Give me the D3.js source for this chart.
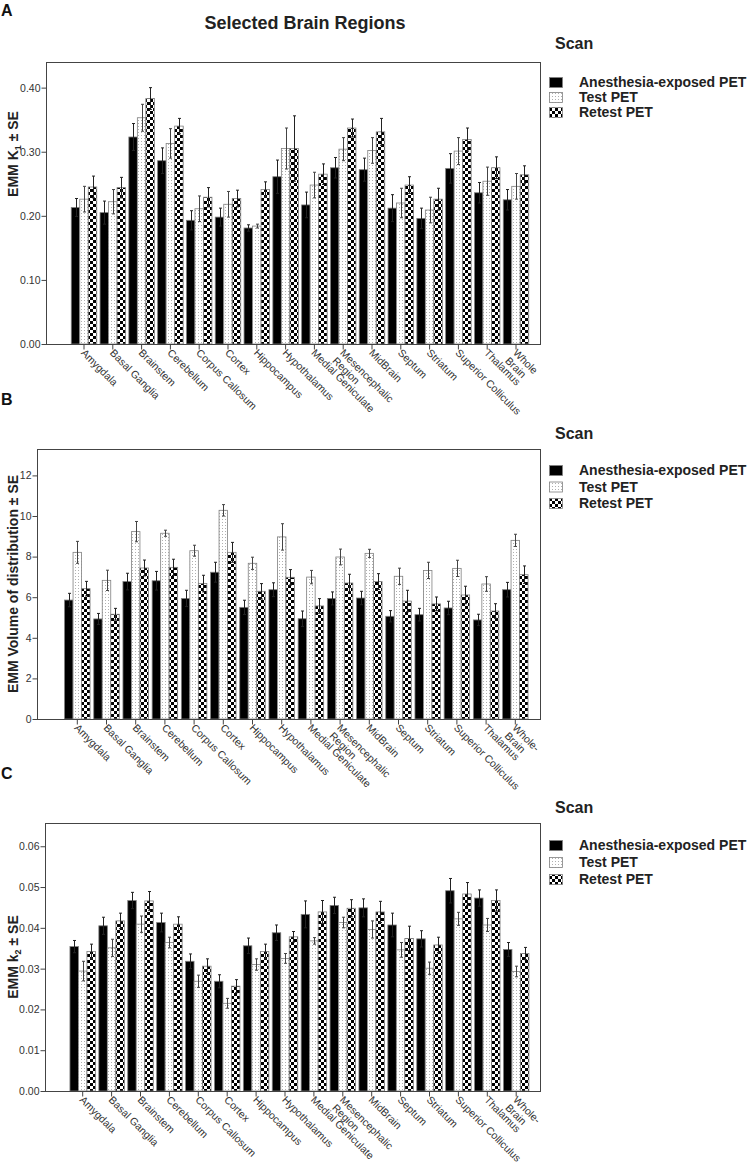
<!DOCTYPE html>
<html><head><meta charset="utf-8">
<script src="https://cdn.jsdelivr.net/npm/d3@7"></script>
<style>
body{margin:0;background:#fff}
svg{display:block}
text{font-family:"Liberation Sans",Arial,Helvetica,sans-serif}
</style>
</head><body>
<svg id="chart" width="752" height="1164"></svg>
<script>
// ---------------- DATA ----------------
const categoriesA = ["Amygdala","Basal Ganglia","Brainstem","Cerebellum","Corpus Callosum","Cortex","Hippocampus","Hypothalamus","Medial Geniculate","Mesencephalic\nRegion","MidBrain","Septum","Striatum","Superior Colliculus","Thalamus","Whole\nBrain"];
const categoriesBC = ["Amygdala","Basal Ganglia","Brainstem","Cerebellum","Corpus Callosum","Cortex","Hippocampus","Hypothalamus","Medial Geniculate","Mesencephalic\nRegion","MidBrain","Septum","Striatum","Superior Colliculus","Thalamus","Whole-\nBrain"];
const seriesNames = ["Anesthesia-exposed PET","Test PET","Retest PET"];

// Panel A: K1
const k1Anesthesia = [0.213,0.205,0.323,0.286,0.193,0.198,0.181,0.261,0.217,0.275,0.272,0.212,0.196,0.274,0.236,0.225];
const k1AnesthesiaSE = [0.014,0.018,0.021,0.020,0.015,0.014,0.005,0.026,0.020,0.016,0.018,0.021,0.016,0.023,0.016,0.016];
const k1Test = [0.226,0.222,0.353,0.313,0.211,0.218,0.184,0.305,0.248,0.304,0.302,0.220,0.209,0.301,0.254,0.246];
const k1TestSE = [0.020,0.019,0.021,0.023,0.020,0.020,0.003,0.032,0.020,0.018,0.020,0.023,0.020,0.021,0.022,0.020];
const k1Retest = [0.245,0.244,0.383,0.340,0.229,0.227,0.241,0.305,0.265,0.337,0.331,0.248,0.226,0.319,0.275,0.264];
const k1RetestSE = [0.017,0.016,0.017,0.012,0.015,0.013,0.012,0.051,0.016,0.014,0.021,0.013,0.017,0.018,0.017,0.014];
const ticksA = [0,0.1,0.2,0.3,0.4];
const tickLabelsA = ["0.00","0.10","0.20","0.30","0.40"];

// Panel B: Volume of distribution
const vdAnesthesia = [5.86,4.93,6.77,6.81,5.94,7.23,5.50,6.37,4.94,5.94,5.96,5.06,5.14,5.47,4.88,6.37];
const vdAnesthesiaSE = [0.33,0.27,0.41,0.46,0.40,0.49,0.35,0.34,0.38,0.32,0.33,0.28,0.31,0.33,0.28,0.36];
const vdTest = [8.21,6.83,9.23,9.15,8.29,10.28,7.67,8.97,6.99,7.98,8.16,7.03,7.32,7.42,6.65,8.80];
const vdTestSE = [0.54,0.50,0.50,0.15,0.27,0.28,0.30,0.65,0.33,0.39,0.20,0.40,0.40,0.40,0.36,0.30];
const vdRetest = [6.42,5.16,7.44,7.47,6.67,8.21,6.29,6.98,5.57,6.70,6.77,5.81,5.67,6.11,5.32,7.11];
const vdRetestSE = [0.36,0.29,0.39,0.40,0.41,0.49,0.38,0.38,0.36,0.43,0.39,0.53,0.34,0.43,0.36,0.43];
const ticksB = [0,2,4,6,8,10,12];
const tickLabelsB = ["0","2","4","6","8","10","12"];

// Panel C: k2
const k2Anesthesia = [0.0354,0.0405,0.0467,0.0413,0.0318,0.0269,0.0356,0.0388,0.0433,0.0455,0.0449,0.0407,0.0373,0.0491,0.0473,0.0347];
const k2AnesthesiaSE = [0.0015,0.0021,0.0020,0.0023,0.0018,0.0016,0.0019,0.0019,0.0033,0.0020,0.0022,0.0029,0.0020,0.0030,0.0020,0.0017];
const k2Test = [0.0294,0.0351,0.0409,0.0364,0.0269,0.0215,0.0310,0.0325,0.0368,0.0413,0.0396,0.0346,0.0301,0.0422,0.0407,0.0293];
const k2TestSE = [0.0024,0.0021,0.0020,0.0013,0.0015,0.0012,0.0014,0.0012,0.0008,0.0013,0.0021,0.0018,0.0015,0.0016,0.0016,0.0013];
const k2Retest = [0.0342,0.0417,0.0466,0.0409,0.0306,0.0257,0.0342,0.0378,0.0439,0.0448,0.0439,0.0374,0.0358,0.0483,0.0467,0.0337];
const k2RetestSE = [0.0018,0.0019,0.0023,0.0018,0.0018,0.0016,0.0018,0.0013,0.0028,0.0021,0.0026,0.0030,0.0019,0.0028,0.0026,0.0015];
const ticksC = [0,0.01,0.02,0.03,0.04,0.05,0.06];
const tickLabelsC = ["0.00","0.01","0.02","0.03","0.04","0.05","0.06"];

// ---------------- DRAWING ----------------
const svg = d3.select("#chart");
const defs = svg.append("defs");

// Test PET pattern: white with fine grey dots
const pTest = defs.append("pattern").attr("id","patTest").attr("patternUnits","userSpaceOnUse")
  .attr("width",3).attr("height",3);
pTest.append("rect").attr("width",3).attr("height",3).attr("fill","#fff");
pTest.append("rect").attr("x",0).attr("y",0).attr("width",1).attr("height",1).attr("fill","#b0b0b0");

// Retest PET pattern: checkerboard
const pRe = defs.append("pattern").attr("id","patRetest").attr("patternUnits","userSpaceOnUse")
  .attr("width",6).attr("height",6);
pRe.append("rect").attr("width",6).attr("height",6).attr("fill","#000");
pRe.append("rect").attr("x",0).attr("y",0).attr("width",3).attr("height",3).attr("fill","#fff");
pRe.append("rect").attr("x",3).attr("y",3).attr("width",3).attr("height",3).attr("fill","#fff");

const fills = ["#000","url(#patTest)","url(#patRetest)"];

const panels = [
  {letter:"A", letterY:16, cats:categoriesA,
   means:[k1Anesthesia,k1Test,k1Retest], ses:[k1AnesthesiaSE,k1TestSE,k1RetestSE],
   ticks:ticksA, tickLabels:tickLabelsA, title:["EMM K","1"," ± SE"],
   L:{left:46,right:540,top:62,bottom:344,yMax:0.44,bandStart:69.6,step:28.8,groupW:25.5,
      titleCY:154, scanY:49, legTop:77, legStep:15}},
  {letter:"B", letterY:405, cats:categoriesBC,
   means:[vdAnesthesia,vdTest,vdRetest], ses:[vdAnesthesiaSE,vdTestSE,vdRetestSE],
   ticks:ticksB, tickLabels:tickLabelsB, title:["EMM Volume of distribution ± SE"],
   L:{left:37,right:540,top:449,bottom:719,yMax:13.3,bandStart:62.7,step:29.2,groupW:25.5,
      titleCY:584, scanY:439, legTop:465, legStep:16.5}},
  {letter:"C", letterY:779, cats:categoriesBC,
   means:[k2Anesthesia,k2Test,k2Retest], ses:[k2AnesthesiaSE,k2TestSE,k2RetestSE],
   ticks:ticksC, tickLabels:tickLabelsC, title:["EMM k","2"," ± SE"],
   L:{left:45,right:540,top:823,bottom:1091,yMax:0.0657,bandStart:68.25,step:28.9,groupW:25.5,
      titleCY:957, scanY:813, legTop:840, legStep:17}}
];

// Main title
svg.append("text").attr("x",305).attr("y",29).attr("text-anchor","middle")
  .attr("font-size",18).attr("font-weight","bold").attr("fill","#222").text("Selected Brain Regions");

panels.forEach(p => {
  const L = p.L;
  const g = svg.append("g");
  const y = d3.scaleLinear().domain([0, L.yMax]).range([L.bottom, L.top]);
  const x = d3.scaleBand().domain(p.cats).range([L.bandStart, L.bandStart + L.step * p.cats.length]).padding(0);
  const xs = d3.scaleBand().domain([0,1,2]).range([(L.step - L.groupW)/2, (L.step + L.groupW)/2]).padding(0);

  // panel letter
  svg.append("text").attr("x",1).attr("y",p.letterY).attr("font-size",16).attr("font-weight","bold")
    .attr("fill","#111").text(p.letter);

  // bars
  p.means.forEach((arr, s) => {
    g.append("g").selectAll("rect").data(arr).join("rect")
      .attr("x",(d,i)=>x(p.cats[i]) + xs(s))
      .attr("y",d=>y(d))
      .attr("width",xs.bandwidth())
      .attr("height",d=>y(0)-y(d))
      .attr("fill",fills[s])
      .attr("stroke","#808080").attr("stroke-width",0.8);
  });

  // error bars
  p.means.forEach((arr, s) => {
    const eg = g.append("g").attr("stroke", s===1 ? "#444" : "#222").attr("stroke-width",1).attr("fill","none");
    arr.forEach((d,i) => {
      const cx = Math.round(x(p.cats[i]) + xs(s) + xs.bandwidth()/2) + 0.5;
      const hi = y(d + p.ses[s][i]), lo = y(d - p.ses[s][i]);
      eg.append("line").attr("x1",cx).attr("x2",cx).attr("y1",hi).attr("y2",lo);
      eg.append("line").attr("x1",cx-1.5).attr("x2",cx+1.5).attr("y1",hi).attr("y2",hi);
      eg.append("line").attr("x1",cx-1.5).attr("x2",cx+1.5).attr("y1",lo).attr("y2",lo);
    });
  });

  // frame
  g.append("rect").attr("x",L.left+0.5).attr("y",L.top+0.5)
    .attr("width",L.right-L.left).attr("height",L.bottom-L.top)
    .attr("fill","none").attr("stroke","#444").attr("stroke-width",1);

  // y axis
  const ya = g.append("g").attr("transform",`translate(${L.left+0.5},0)`)
    .call(d3.axisLeft(y).tickValues(p.ticks).tickFormat((d,i)=>p.tickLabels[i]).tickSize(5).tickPadding(1));
  ya.select(".domain").remove();
  ya.selectAll("line").attr("stroke","#444");
  ya.selectAll("text").attr("font-size",10.5).attr("fill","#333")
    .attr("font-family",'"Liberation Sans",Arial,sans-serif');

  // x axis ticks
  const xa = g.append("g").attr("transform",`translate(0,${L.bottom+0.5})`)
    .call(d3.axisBottom(x).tickSize(5).tickFormat(""));
  xa.select(".domain").remove();
  xa.selectAll("line").attr("stroke","#444");

  // rotated category labels
  const lab = g.append("g");
  p.cats.forEach(c => {
    const cx = x(c) + x.bandwidth()/2;
    const t = lab.append("text")
      .attr("transform",`translate(${cx-1},${L.bottom+7}) rotate(45)`)
      .attr("font-size",10.5).attr("fill","#333").attr("text-anchor","start");
    c.split("\n").forEach((line,k) => {
      t.append("tspan").attr("x",0).attr("dy", k===0 ? "0.35em" : "1.05em").text(line);
    });
  });

  // y-axis title
  const tt = svg.append("text")
    .attr("transform",`translate(18,${L.titleCY}) rotate(-90)`)
    .attr("text-anchor","middle").attr("font-size",14).attr("font-weight","bold").attr("fill","#222");
  if (p.title.length === 1) {
    tt.text(p.title[0]);
  } else {
    tt.append("tspan").text(p.title[0]);
    tt.append("tspan").attr("font-size",9).attr("dy",3).text(p.title[1]);
    tt.append("tspan").attr("dy",-3).text(p.title[2]);
  }

  // legend
  svg.append("text").attr("x",555).attr("y",L.scanY).attr("font-size",16).attr("font-weight","bold")
    .attr("fill","#222").text("Scan");
  seriesNames.forEach((nm,s) => {
    const ty = L.legTop + s*L.legStep;
    svg.append("rect").attr("x",549.5).attr("y",ty+0.5).attr("width",13).attr("height",10)
      .attr("fill",fills[s]).attr("stroke","#808080").attr("stroke-width",0.8);
    svg.append("text").attr("x",579).attr("y",ty+10).attr("font-size",14).attr("font-weight","bold")
      .attr("fill","#222").text(nm);
  });
});
</script>
</body></html>
